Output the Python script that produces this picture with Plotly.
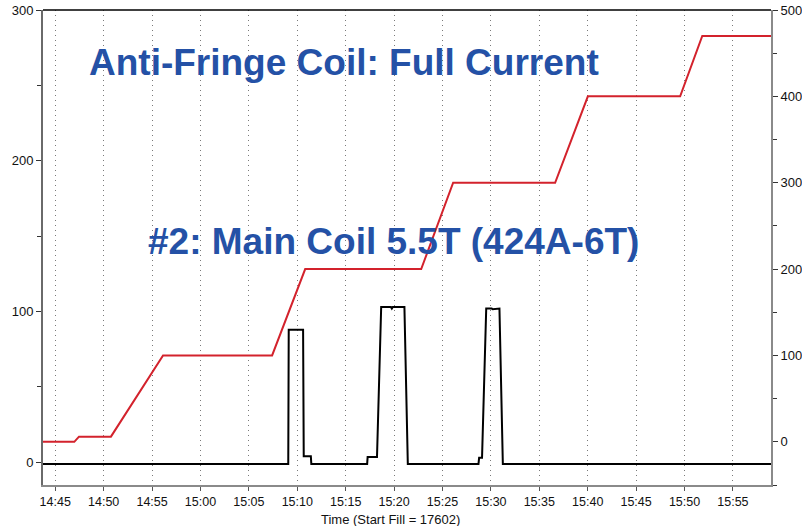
import plotly.graph_objects as go

DAY = "2000-01-01 "

# Anti-fringe coil current (right axis)
red_times = ["14:43:44", "14:46:58", "14:47:27", "14:50:45", "14:56:08", "15:07:24",
             "15:10:49", "15:22:48", "15:26:06", "15:36:38", "15:40:01", "15:49:33",
             "15:51:50", "15:58:56"]
red_values = [0, 0, 6, 6, 100, 100, 200, 200, 300, 300, 400, 400, 470, 470]

# Main coil signal (left axis)
black_times = ["14:43:44", "15:09:04", "15:09:07", "15:10:36", "15:10:40", "15:11:24",
               "15:11:27", "15:17:13", "15:17:16", "15:18:14", "15:18:40", "15:19:40",
               "15:19:46", "15:19:52", "15:21:04", "15:21:25", "15:28:43", "15:28:47",
               "15:29:05", "15:29:31", "15:30:05", "15:30:11", "15:30:53", "15:31:14",
               "15:58:56"]
black_values = [-1, -1, 88, 88, 4, 4, -1, -1, 3.5, 3.5, 103, 103, 102, 103, 103, -1,
                -1, 3, 3, 102, 102, 101.5, 102, -1, -1]

x_start, x_end = DAY + "14:43:44", DAY + "15:58:56"
left_range = [-15, 300]
right_range = [-50, 500]

title_blue = "#2451a6"
sans = "Liberation Sans, Arial, sans-serif"

fig = go.Figure()
fig.add_trace(go.Scatter(
    x=[DAY + t for t in red_times], y=red_values, yaxis="y2",
    mode="lines", line=dict(color="#d3222c", width=2), showlegend=False))
fig.add_trace(go.Scatter(
    x=[DAY + t for t in black_times], y=black_values, yaxis="y",
    mode="lines", line=dict(color="#000000", width=2), showlegend=False))

fig.update_layout(
    width=802, height=526,
    margin=dict(l=43, r=31, t=10, b=41, autoexpand=False),
    paper_bgcolor="white", plot_bgcolor="white",
    xaxis=dict(
        type="date", range=[x_start, x_end],
        tick0=DAY + "14:45:00", dtick=300000, tickformat="%H:%M",
        showgrid=True, gridcolor="#7a7a7a", gridwidth=1, griddash="1px,4px",
        showline=True, linecolor="#8a8a8a", linewidth=2, mirror=False,
        ticks="outside", ticklen=4, tickcolor="#555555",
        tickfont=dict(family=sans, size=12.5, color="#111111"),
        zeroline=False,
    ),
    yaxis=dict(
        range=left_range, tickvals=[0, 100, 200, 300],
        showgrid=False, zeroline=False,
        showline=True, linecolor="#6a6a6a", linewidth=2,
        ticks="outside", ticklen=5, tickcolor="#333333",
        minor=dict(dtick=50, tick0=0, ticks="outside", ticklen=4, tickcolor="#333333"),
        tickfont=dict(family=sans, size=13, color="#111111"),
    ),
    yaxis2=dict(
        range=right_range, tickvals=[0, 100, 200, 300, 400, 500],
        overlaying="y", side="right",
        showgrid=False, zeroline=False,
        showline=True, linecolor="#8a8a8a", linewidth=2,
        ticks="outside", ticklen=5, tickcolor="#333333",
        minor=dict(dtick=50, tick0=0, ticks="outside", ticklen=4, tickcolor="#333333"),
        tickfont=dict(family=sans, size=13, color="#111111"),
    ),
    shapes=[dict(type="line", xref="paper", yref="paper", x0=0, x1=1, y0=1, y1=1,
                 line=dict(color="#000000", width=1.5))],
    annotations=[
        dict(text="<b>Anti-Fringe Coil: Full Current</b>", xref="paper", yref="paper",
             x=0.414, y=0.8905, xanchor="center", yanchor="middle", showarrow=False,
             font=dict(family=sans, size=37, color=title_blue)),
        dict(text="<b>#2: Main Coil 5.5T (424A-6T)</b>", xref="paper", yref="paper",
             x=0.482, y=0.5116, xanchor="center", yanchor="middle", showarrow=False,
             font=dict(family=sans, size=37, color=title_blue)),
        dict(text="Time (Start Fill = 17602)", xref="paper", yref="paper",
             x=0.4775, y=-0.0716, xanchor="center", yanchor="middle", showarrow=False,
             font=dict(family=sans, size=13, color="#111111")),
    ],
)

fig.write_html("out.html")
